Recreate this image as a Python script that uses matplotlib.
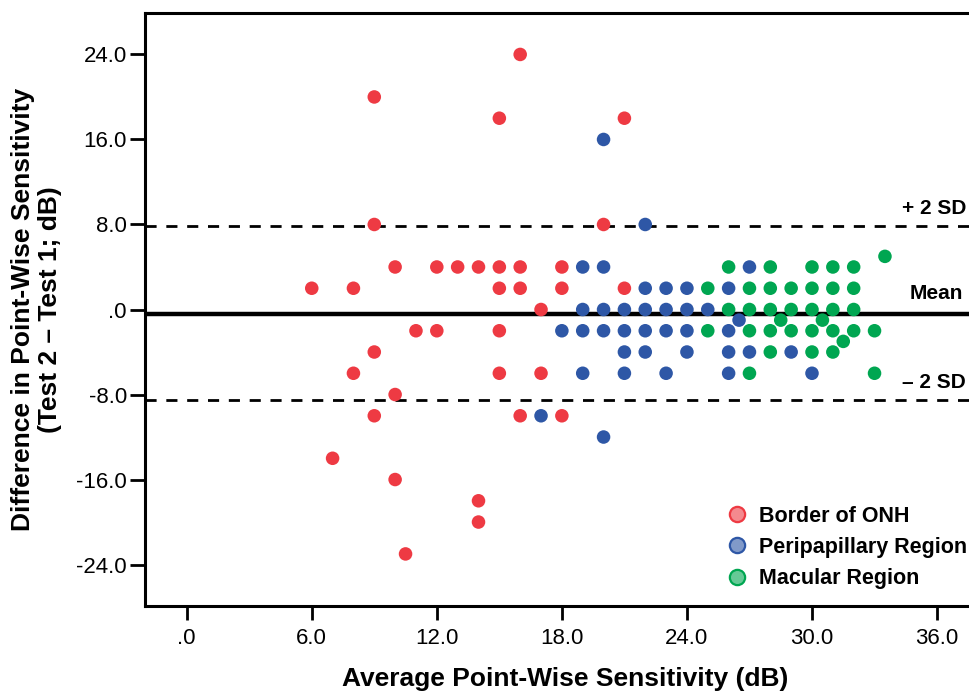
import matplotlib
matplotlib.use("Agg")
import matplotlib.pyplot as plt
from matplotlib.lines import Line2D
from matplotlib.colors import to_rgba

plt.rcParams['font.family'] = ['Liberation Sans', 'DejaVu Sans']

# Border of ONH
onh_x = [6, 8, 9, 9, 9, 9, 8, 10, 10, 10, 7, 10.5, 11, 12, 12, 13, 14, 14, 14,
         15, 15, 15, 15, 15, 16, 16, 16, 16, 17, 17, 18, 18, 18, 20, 21, 21]
onh_y = [2, 2, 20, 8, -4, -10, -6, 4, -8, -16, -14, -23, -2, 4, -2, 4, 4, -18, -20,
         18, 4, 2, -2, -6, 24, 4, 2, -10, 0, -6, 4, 2, -10, 8, 18, 2]

# Peripapillary region
peri_x = [20, 22, 19, 20, 27, 22, 23, 24, 26,
          19, 20, 21, 22, 23, 24, 25, 26.5,
          18, 19, 20, 21, 22, 23, 24, 26,
          21, 22, 24, 26, 27, 29,
          19, 21, 23, 26, 30, 17, 20]
peri_y = [16, 8, 4, 4, 4, 2, 2, 2, 2,
          0, 0, 0, 0, 0, 0, 0, -1,
          -2, -2, -2, -2, -2, -2, -2, -2,
          -4, -4, -4, -4, -4, -4,
          -6, -6, -6, -6, -6, -10, -12]

# Macular region
mac_x = [33.5, 26, 28, 30, 31, 32,
         25, 27, 28, 29, 30, 31, 32,
         26, 27, 28, 29, 30, 31, 32,
         28.5, 30.5,
         25, 27, 28, 29, 30, 31, 32, 33,
         31.5, 28, 30, 31, 27, 33]
mac_y = [5, 4, 4, 4, 4, 4,
         2, 2, 2, 2, 2, 2, 2,
         0, 0, 0, 0, 0, 0, 0,
         -1, -1,
         -2, -2, -2, -2, -2, -2, -2, -2,
         -3, -4, -4, -4, -6, -6]

mean_diff = -0.4
upper_loa = 7.9
lower_loa = -8.5

x_ticks = [0, 6, 12, 18, 24, 30, 36]
x_labels = ['.0', '6.0', '12.0', '18.0', '24.0', '30.0', '36.0']
y_ticks = [24, 16, 8, 0, -8, -16, -24]
y_labels = ['24.0', '16.0', '8.0', '.0', '-8.0', '-16.0', '-24.0']

red = '#EE3A43'
blue = '#2E57A6'
green = '#00A651'

W, H = 970, 694
fig = plt.figure(figsize=(W / 100, H / 100), dpi=100)
ax = fig.add_axes([145 / W, 1 - 606 / H, (985 - 145) / W, (606 - 13) / H])

ax.axhline(upper_loa, color='black', lw=2, ls=(0, (4, 3.5)), zorder=1)
ax.axhline(lower_loa, color='black', lw=2, ls=(0, (4, 3.5)), zorder=1)
ax.axhline(mean_diff, color='black', lw=3.2, zorder=1)

ms = 95
ax.scatter(onh_x, onh_y, s=ms, color=red, edgecolors='none', zorder=3)
ax.scatter(peri_x, peri_y, s=ms, color=blue, edgecolors='none', zorder=3)
ax.scatter(mac_x, mac_y, s=ms, color=green, edgecolors='none', zorder=3)

ax.set_xlim(-2.0, 38.3)
ax.set_ylim(-27.9, 27.9)
ax.set_xticks(x_ticks)
ax.set_xticklabels(x_labels)
ax.set_yticks(y_ticks)
ax.set_yticklabels(y_labels)
ax.tick_params(axis='x', direction='out', length=10, width=2, labelsize=16, pad=6)
ax.tick_params(axis='y', direction='out', length=11, width=2, labelsize=16, pad=2)

for s in ['left', 'bottom', 'top']:
    ax.spines[s].set_linewidth(2.2)
ax.spines['right'].set_visible(False)

ax.set_xlabel('Average Point-Wise Sensitivity (dB)', fontsize=19, fontweight='bold', labelpad=13)
ax.set_ylabel('Difference in Point-Wise Sensitivity\n(Test 2 \u2013 Test 1; dB)', fontsize=19,
              fontweight='bold', labelpad=10, linespacing=1.15)

ax.text(34.3, upper_loa + 1.6, '+ 2 SD', fontsize=15, fontweight='bold', va='center', ha='left')
ax.text(34.7, mean_diff + 1.9, 'Mean', fontsize=15, fontweight='bold', va='center', ha='left')
ax.text(34.3, lower_loa + 1.6, '\u2013 2 SD', fontsize=15, fontweight='bold', va='center', ha='left')


def legend_dot(c):
    face = to_rgba(c, 0.6)
    return Line2D([], [], ls='none', marker='o', markersize=11,
                  markerfacecolor=face, markeredgecolor=c, markeredgewidth=1.6)


handles = [legend_dot(red), legend_dot(blue), legend_dot(green)]
labels = ['Border of ONH', 'Peripapillary Region', 'Macular Region']
ax.legend(handles, labels, loc='upper left', bbox_to_anchor=(718 / W, 1 - 497 / H),
          bbox_transform=fig.transFigure, frameon=False, handletextpad=0.5,
          labelspacing=0.48, handlelength=1.0, borderaxespad=0,
          prop={'size': 15.5, 'weight': 'bold'})

fig.savefig('out.png', dpi=100)
